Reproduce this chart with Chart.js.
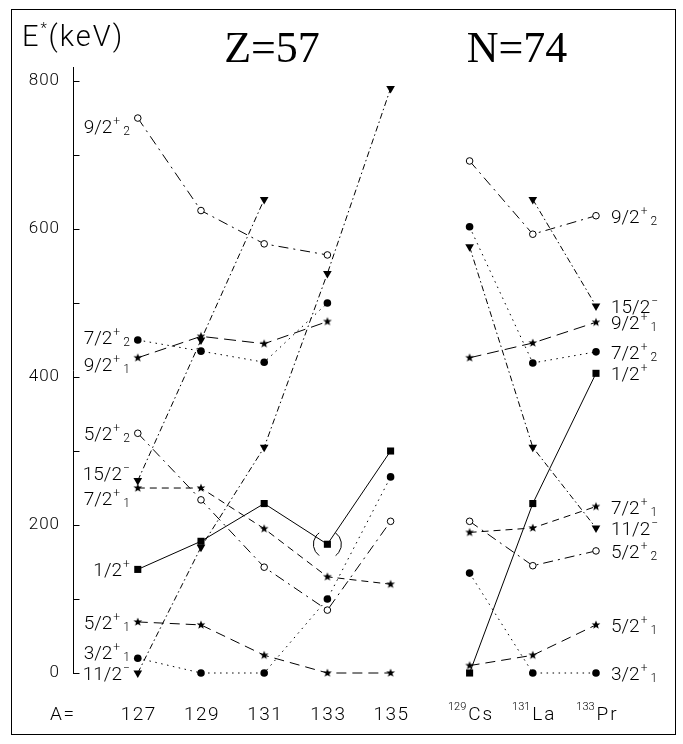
<!DOCTYPE html>
<html>
<head>
<meta charset="utf-8">
<script src="https://cdn.jsdelivr.net/npm/chart.js@4.4.0/dist/chart.umd.min.js"></script>
<style>
  html, body { margin: 0; padding: 0; background: #fff; }
</style>
</head>
<body>
<canvas id="levels" width="683" height="744"></canvas>
<script>
// x categories
const massNumbers = [127, 129, 131, 133, 135];          // Z=57 chain
const isotones = [["129", "Cs"], ["131", "La"], ["133", "Pr"]]; // N=74 chain
const yTicks = [0, 100, 200, 300, 400, 500, 600, 700, 800];
const yTickLabels = [0, 200, 400, 600, 800];

// level names: spin, parity, index
const levelSpin   = ["1/2", "3/2", "5/2", "5/2", "7/2", "7/2", "9/2", "9/2", "11/2", "15/2"];
const levelParity = ["+", "+", "+", "+", "+", "+", "+", "+", "\u2212", "\u2212"];
const levelIndex  = ["", "1", "1", "2", "1", "2", "1", "2", "", ""];

// Z=57, excitation energy in keV (A = 127 .. 135), null = not seen
const zHalf1   = [140, 178, 229, 174, 300];
const zThree1  = [20, 0, 0, 100, 265];
const zFive1   = [69, 65, 24, 0, 0];
const zFive2   = [324, 234, 143, 85, 205];
const zSeven1  = [250, 250, 195, 130, 120];
const zSeven2  = [450, 435, 420, 500, null];
const zNine1   = [426, 455, 445, 475, null];
const zNine2   = [750, 625, 580, 565, null];
const zEleven  = [0, 170, 305, 540, 790];
const zFifteen = [260, 450, 640, null, null];

// N=74, keV (129Cs, 131La, 133Pr)
const nHalf1   = [0, 229, 405];
const nThree1  = [135, 0, 0];
const nFive1   = [10, 24, 65];
const nFive2   = [205, 145, 165];
const nSeven1  = [190, 196, 225];
const nSeven2  = [603, 419, 434];
const nNine1   = [426, 446, 474];
const nNine2   = [692, 593, 618];
const nEleven  = [576, 305, 196];
const nFifteen = [null, 640, 496];

const zLevels = [zHalf1, zThree1, zFive1, zFive2, zSeven1, zSeven2, zNine1, zNine2, zEleven, zFifteen];
const nLevels = [nHalf1, nThree1, nFive1, nFive2, nSeven1, nSeven2, nNine1, nNine2, nEleven, nFifteen];

// style per level
const markers = ["square", "dot", "star", "ring", "star", "dot", "star", "ring", "tri", "tri"];
const dotted = [1.5, 4.5], dashDot = [10, 5, 2, 5], dashDotty = [6, 3, 1.5, 3];
const dashes = [[], dotted, [10, 6], dashDot, [7, 5], dotted, [12, 6], dashDot, dashDotty, dashDotty];
const leftNudge = [0, -6, 0, 0, 10, -3, 6, 8, 0, -8];

const nX = isotones.map((_, i) => 137.5 + 2 * i);
const SANS = "Roboto";

function makeStar(r) {
  const s = Math.ceil(r * 2 + 2);
  const c = document.createElement("canvas");
  c.width = c.height = s;
  const g = c.getContext("2d");
  g.translate(s / 2, s / 2);
  g.beginPath();
  for (let k = 0; k < 10; k++) {
    const rr = k % 2 ? r * 0.42 : r;
    const a = -Math.PI / 2 + k * Math.PI / 5;
    g.lineTo(rr * Math.cos(a), rr * Math.sin(a));
  }
  g.closePath();
  g.fillStyle = "#000";
  g.fill();
  return c;
}
const starImg = makeStar(4.6);

function markerProps(type) {
  switch (type) {
    case "square": return { pointStyle: "rect", pointRadius: 5, pointBackgroundColor: "#000", pointBorderWidth: 0 };
    case "dot":    return { pointStyle: "circle", pointRadius: 3.8, pointBackgroundColor: "#000", pointBorderWidth: 0 };
    case "ring":   return { pointStyle: "circle", pointRadius: 3.3, pointBackgroundColor: "#fff", pointBorderColor: "#000", pointBorderWidth: 1 };
    case "tri":    return { pointStyle: "triangle", pointRadius: 5, pointRotation: 180, pointBackgroundColor: "#000", pointBorderWidth: 0 };
    default:       return { pointStyle: starImg, pointRadius: 4.6 };
  }
}

function makeSet(xs, ys, i) {
  return Object.assign({
    data: xs.map((x, k) => ({ x: x, y: ys[k] })).filter(p => p.y !== null),
    showLine: true,
    borderColor: "#000",
    borderWidth: 1,
    borderDash: dashes[i],
    fill: false,
    tension: 0,
    clip: false
  }, markerProps(markers[i]));
}

const datasets = [];
zLevels.forEach((ys, i) => datasets.push(makeSet(massNumbers, ys, i)));
nLevels.forEach((ys, i) => datasets.push(makeSet(nX, ys, i)));

function drawLevelLabel(ctx, i, x, y, align) {
  ctx.font = "300 19px " + SANS;
  const wMain = ctx.measureText(levelSpin[i]).width;
  ctx.font = "300 12px " + SANS;
  const wSup = ctx.measureText(levelParity[i]).width;
  const wSub = levelIndex[i] ? ctx.measureText(levelIndex[i]).width : 0;
  const total = wMain + 1 + wSup + (levelIndex[i] ? 3 + wSub : 0);
  const x0 = align === "right" ? x - total : x;
  ctx.textAlign = "left";
  ctx.textBaseline = "alphabetic";
  ctx.font = "300 19px " + SANS;
  ctx.fillText(levelSpin[i], x0, y + 7);
  ctx.font = "300 12px " + SANS;
  ctx.fillText(levelParity[i], x0 + wMain + 1, y - 1);
  if (levelIndex[i]) ctx.fillText(levelIndex[i], x0 + wMain + 1 + wSup + 3, y + 9);
}

const decor = {
  id: "decor",
  beforeDraw(chart) {
    // the axis numbers are drawn a little spaced out
    chart.ctx.letterSpacing = "1px";
  },
  afterDraw(chart) {
    const ctx = chart.ctx;
    const xs = chart.scales.x, ys = chart.scales.y;
    const n = zLevels.length;
    ctx.save();
    ctx.letterSpacing = "0px";
    ctx.fillStyle = "#000";
    ctx.strokeStyle = "#000";
    ctx.lineWidth = 1;

    // frame
    ctx.strokeRect(11.5, 9.5, 664, 725);

    // inward ticks on energy axis
    const ax = Math.round(chart.chartArea.left) + 0.5;
    ctx.beginPath();
    yTicks.forEach(v => {
      const py = Math.round(ys.getPixelForValue(v)) + 0.5;
      ctx.moveTo(ax, py);
      ctx.lineTo(ax + 6, py);
    });
    ctx.stroke();

    // axis title
    ctx.textAlign = "left";
    ctx.textBaseline = "alphabetic";
    ctx.letterSpacing = "2px";
    ctx.font = "300 29px " + SANS;
    ctx.fillText("E", 22, 46);
    const wE = ctx.measureText("E").width;
    ctx.font = "300 15px " + SANS;
    ctx.fillText("*", 22 + wE, 33);
    ctx.font = "300 29px " + SANS;
    ctx.fillText("(keV)", 22 + wE + 8, 46);
    ctx.letterSpacing = "0px";

    // panel titles
    ctx.textAlign = "center";
    ctx.font = "44px 'Liberation Serif'";
    ctx.fillText("Z=57", 272, 62);
    ctx.fillText("N=74", 517, 62);

    // x labels
    const baseY = 720;
    ctx.letterSpacing = "1.5px";
    ctx.font = "300 19px " + SANS;
    ctx.textAlign = "center";
    massNumbers.forEach(a => ctx.fillText(String(a), xs.getPixelForValue(a) + 1, baseY));
    ctx.textAlign = "left";
    ctx.fillText("A=", 50, baseY);
    ctx.letterSpacing = "0px";
    isotones.forEach((nm, k) => {
      ctx.font = "300 11px " + SANS;
      const w1 = ctx.measureText(nm[0]).width;
      ctx.font = "300 19px " + SANS;
      const w2 = ctx.measureText(nm[1]).width + 2;
      const x0 = xs.getPixelForValue(nX[k]) - (w1 + 1 + w2) / 2;
      ctx.font = "300 11px " + SANS;
      ctx.fillText(nm[0], x0, baseY - 10);
      ctx.letterSpacing = "2px";
      ctx.font = "300 19px " + SANS;
      ctx.fillText(nm[1], x0 + w1 + 2, baseY);
      ctx.letterSpacing = "0px";
    });

    // level labels
    for (let i = 0; i < n; i++) {
      const zp = chart.getDatasetMeta(i).data[0];
      drawLevelLabel(ctx, i, zp.x - 8, zp.y + leftNudge[i], "right");
      const nd = chart.getDatasetMeta(n + i).data;
      const np = nd[nd.length - 1];
      drawLevelLabel(ctx, i, np.x + 15, np.y, "left");
    }

    // tentative 1/2+ level in 133La
    const p = chart.getDatasetMeta(0).data[3];
    ctx.beginPath();
    ctx.arc(p.x, p.y, 14, Math.PI * 0.7, Math.PI * 1.3);
    ctx.stroke();
    ctx.beginPath();
    ctx.arc(p.x, p.y, 14, -Math.PI * 0.3, Math.PI * 0.3);
    ctx.stroke();
    ctx.restore();
  }
};

new Chart(document.getElementById("levels"), {
  type: "scatter",
  data: { datasets: datasets },
  options: {
    responsive: false,
    animation: false,
    devicePixelRatio: 1,
    layout: { padding: { left: 0, top: 67, right: 8, bottom: 71 } },
    plugins: { legend: { display: false }, tooltip: { enabled: false } },
    scales: {
      x: { type: "linear", display: false, min: 124.95, max: 144 },
      y: {
        type: "linear",
        min: 0,
        max: 819,
        afterBuildTicks: s => { s.ticks = yTicks.map(v => ({ value: v })); },
        afterFit: s => { s.width = 73; },
        grid: { display: false },
        border: { display: true, color: "#000", width: 1 },
        ticks: {
          padding: 5,
          color: "#000",
          font: { family: SANS, size: 17, weight: "300" },
          callback: v => yTickLabels.includes(v) ? String(v) : ""
        }
      }
    }
  },
  plugins: [decor]
});
</script>
</body>
</html>
